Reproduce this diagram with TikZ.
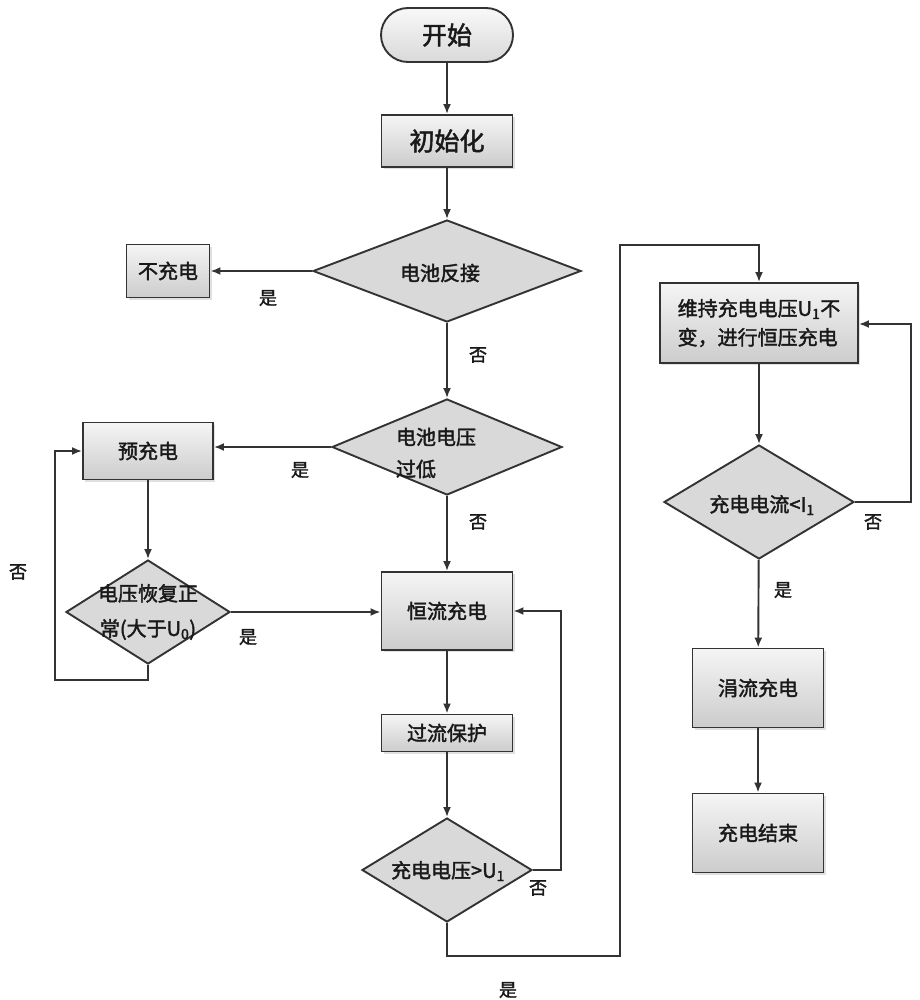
\documentclass[tikz,border=0pt]{standalone}
\usepackage{fontspec}
\setmainfont{Noto Sans CJK SC}[FakeBold=2]
\usetikzlibrary{shapes.geometric,shapes.misc,arrows.meta,shadows}
\begin{document}
\begin{tikzpicture}[x=1pt,y=-1pt,
  line width=1.9pt,
  every node/.style={text=black!90},
  link/.style={draw=black!80,-{Latex[length=10pt,width=8pt]}},
  procbox/.style={draw=black!80,line width=1.9pt,rectangle,inner sep=0pt,
     top color=gray!8,bottom color=gray!40,
     drop shadow={shadow xshift=2pt,shadow yshift=-2pt,fill=gray!40,opacity=0.6},
     font=\fontsize{20}{24}\selectfont},
  decide/.style={draw=black!80,line width=1.9pt,diamond,inner sep=0pt,aspect=1,
     fill=gray!30},
  dtext/.style={inner sep=0pt,font=\fontsize{20}{24}\selectfont},
  term/.style={draw=black!80,line width=1.9pt,rounded rectangle,inner sep=0pt,
     top color=gray!5,bottom color=gray!30,font=\fontsize{25}{30}\selectfont},
  lbl/.style={font=\fontsize{18}{20}\selectfont,inner sep=0pt},
]
\useasboundingbox[fill=white] (0,0) rectangle (919,1000);
% nodes
\node[term,minimum width=132pt,minimum height=54pt] (start) at (447,35) {开始};
\node[procbox,minimum width=131pt,minimum height=52pt,font=\fontsize{25}{30}\selectfont] (init) at (447,141) {初始化};
\node[decide,minimum width=268pt,minimum height=102pt] (rev) at (447,271) {};
\node[dtext] (revt) at (440,273) {电池反接};
\node[procbox,minimum width=83pt,minimum height=53pt] (nochg) at (168,271) {不充电};
\node[decide,minimum width=230pt,minimum height=96pt] (low) at (447,447) {};
\node[dtext,font=\fontsize{20}{32}\selectfont,align=left] (lowt) at (436,453) {电池电压\\过低};
\node[procbox,minimum width=130pt,minimum height=57pt] (pre) at (148,451) {预充电};
\node[decide,minimum width=164pt,minimum height=104pt] (rec) at (148,612) {};
\node[dtext,align=center,font=\fontsize{20}{35}\selectfont] (rect) at (148,612) {电压恢复正\\常(大于U\textsubscript{0})};
\node[procbox,minimum width=131pt,minimum height=78pt] (cc) at (447,611) {恒流充电};
\node[procbox,minimum width=131pt,minimum height=37pt] (ocp) at (447,733) {过流保护};
\node[decide,minimum width=170pt,minimum height=104pt] (vchk) at (447,870) {};
\node[dtext] (vchkt) at (448,871) {充电电压>U\textsubscript{1}};
\node[procbox,minimum width=198pt,minimum height=80pt,align=left,font=\fontsize{20}{29}\selectfont] (cv) at (759,323) {维持充电电压U\textsubscript{1}不\\变，进行恒压充电};
\node[decide,minimum width=190pt,minimum height=114pt] (ichk) at (759,502) {};
\node[dtext] (ichkt) at (762,505) {充电电流<I\textsubscript{1}};
\node[procbox,minimum width=131pt,minimum height=79pt] (trk) at (758,688) {涓流充电};
\node[procbox,minimum width=131pt,minimum height=79pt] (done) at (758,833) {充电结束};
% coordinates
\coordinate (l1) at (148,680);
\coordinate (l2) at (55,680);
\coordinate (l3) at (55,451);
\coordinate (r1) at (561,870);
\coordinate (r2) at (561,611);
\coordinate (y1) at (447,956);
\coordinate (y2) at (620,956);
\coordinate (y3) at (620,245);
\coordinate (y4) at (759,245);
\coordinate (n1) at (911,502);
\coordinate (n2) at (911,324);
% connectors
\draw[link] (start) -- (init);
\draw[link] (init) -- (rev);
\draw[link] (rev.west) -- (nochg.east);
\draw[link] (rev) -- (low);
\draw[link] (low.west) -- (pre.east |- low.west);
\draw[link] (pre) -- (rec);
\draw[link] (rec.east) -- (cc.west |- rec.east);
\draw[link] (rec.south) -- (l1) -- (l2) -- (l3) -- (pre.west);
\draw[link] (low) -- (cc);
\draw[link] (cc) -- (ocp);
\draw[link] (ocp) -- (vchk);
\draw[link] (vchk.east) -- (r1) -- (r2) -- (cc.east);
\draw[link] (vchk.south) -- (y1) -- (y2) -- (y3) -- (y4) -- (cv.north);
\draw[link] (cv) -- (ichk);
\draw[link] (ichk.east) -- (n1) -- (n2) -- (cv.east |- n2);
\draw[link] (ichk) -- (trk);
\draw[link] (trk) -- (done);
% labels
\node[lbl] (t1) at (268,298) {是};
\node[lbl] (t2) at (478,355) {否};
\node[lbl] (t3) at (300,470) {是};
\node[lbl] (t4) at (478,522) {否};
\node[lbl] (t5) at (248,637) {是};
\node[lbl] (t6) at (18,572) {否};
\node[lbl] (t7) at (538,888) {否};
\node[lbl] (t8) at (508,990) {是};
\node[lbl] (t9) at (873,522) {否};
\node[lbl] (t10) at (783,590) {是};
\end{tikzpicture}
\end{document}
